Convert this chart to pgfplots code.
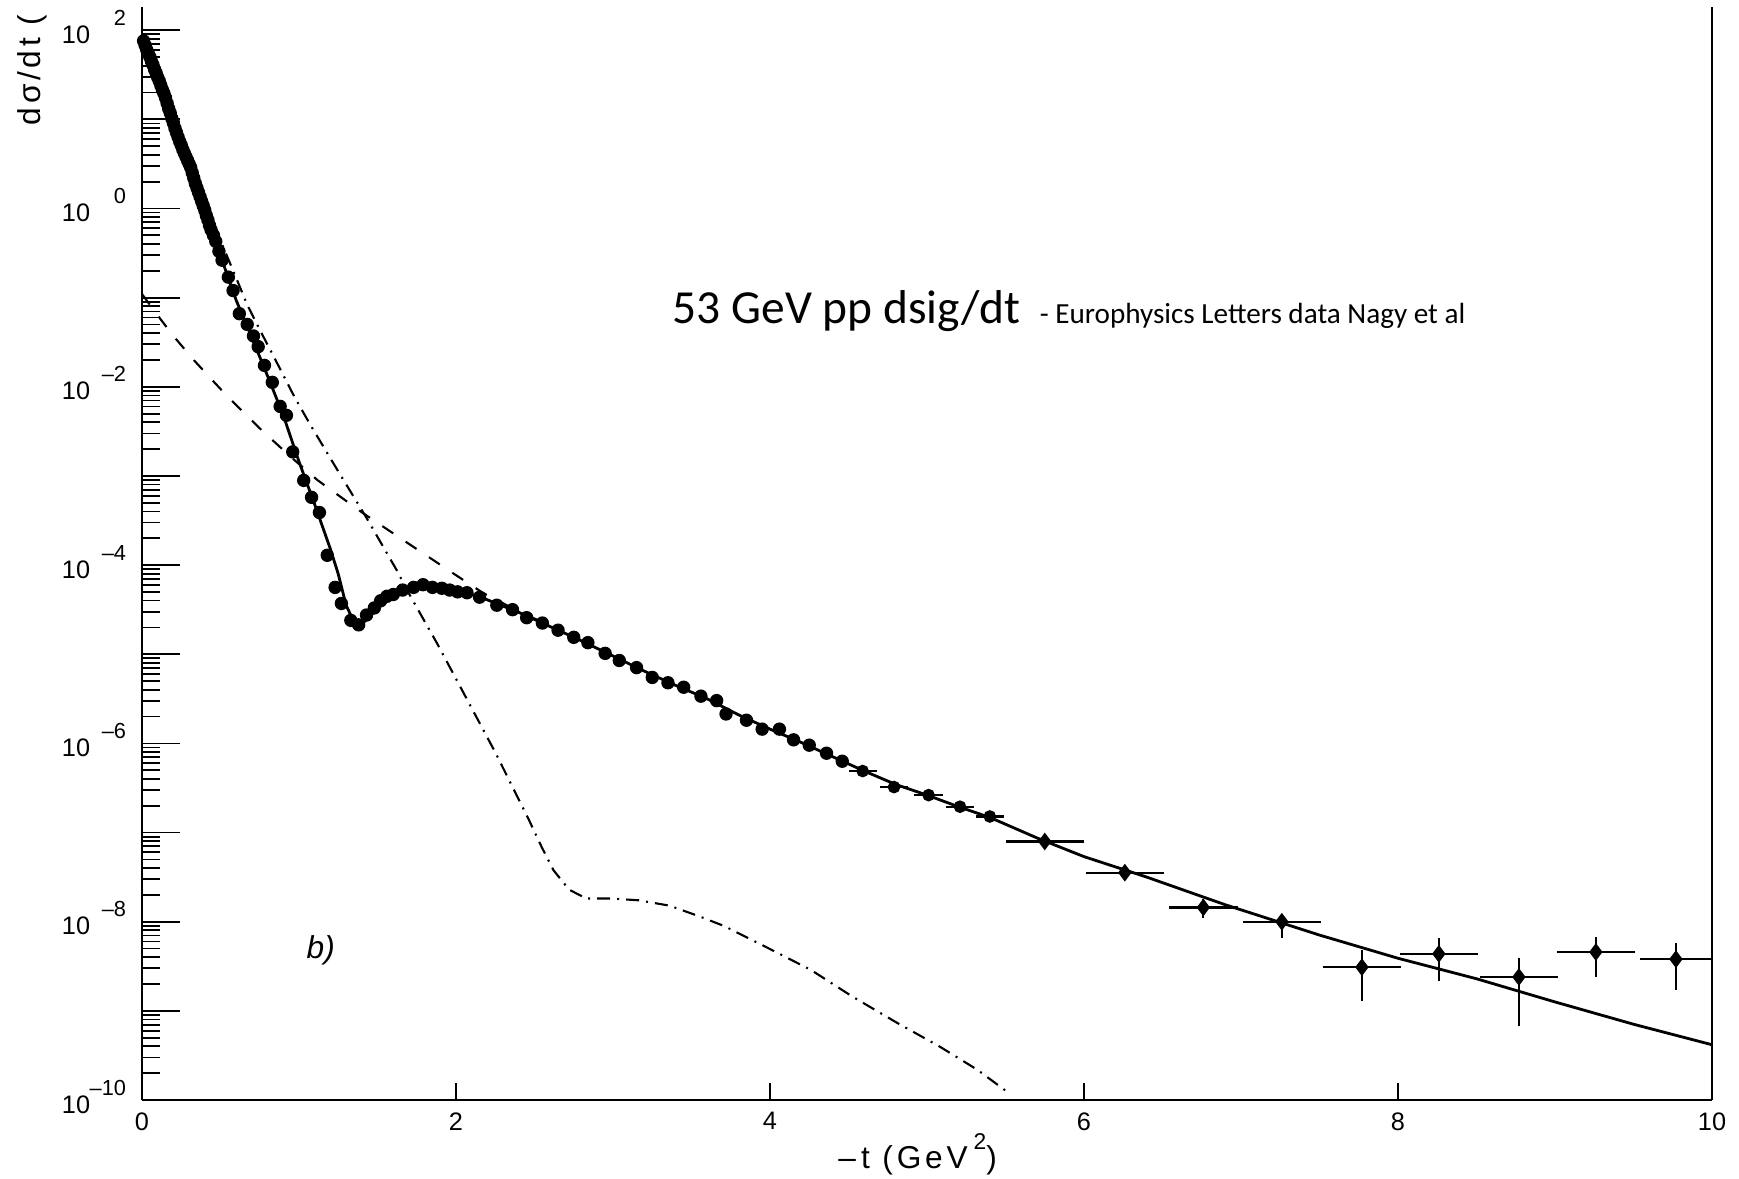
\documentclass[border=0pt]{standalone}
\usepackage{fontspec}
\setmainfont{Liberation Sans}
\newfontfamily\calibri{Carlito}
\usepackage{pgfplots}
\pgfplotsset{compat=1.18}
\usepackage{pgfplotstable}
\usetikzlibrary{calc}

\newcommand{\E}[1]{10\makebox[3.6mm][r]{\raisebox{1.8mm}{\fontsize{6.2}{7}\selectfont #1}}}
\newcommand{\labfont}{\fontsize{9}{10}\selectfont\addfontfeature{LetterSpace=12}}

\def\minorlist{100}
\foreach \e in {-10,...,2}{\foreach \m in {2,...,9}{\xdef\minorlist{\minorlist,\m e\e}}}

\pgfplotstableread{
x ly
0.01 1.88
0.02 1.83
0.03 1.78
0.04 1.74
0.05 1.70
0.06 1.65
0.07 1.61
0.08 1.56
0.09 1.52
0.10 1.47
0.11 1.43
0.12 1.38
0.13 1.33
0.14 1.29
0.15 1.24
0.16 1.18
0.17 1.12
0.18 1.07
0.19 1.01
0.20 0.96
0.21 0.90
0.22 0.85
0.23 0.80
0.24 0.75
0.25 0.71
0.26 0.66
0.27 0.62
0.28 0.58
0.29 0.54
0.30 0.50
0.31 0.46
0.32 0.40
0.33 0.34
0.34 0.28
0.35 0.23
0.36 0.18
0.37 0.13
0.38 0.08
0.39 0.03
0.40 -0.02
0.41 -0.08
0.42 -0.13
0.43 -0.19
0.44 -0.24
0.455 -0.30
0.47 -0.37
0.49 -0.48
0.51 -0.58
0.55 -0.77
0.58 -0.92
0.62 -1.18
0.67 -1.30
0.71 -1.43
0.74 -1.55
0.78 -1.76
0.83 -1.95
0.88 -2.22
0.92 -2.32
0.96 -2.73
1.03 -3.05
1.08 -3.24
1.13 -3.41
1.18 -3.89
1.23 -4.25
1.27 -4.43
1.33 -4.62
1.38 -4.67
1.43 -4.56
1.48 -4.48
1.52 -4.40
1.56 -4.35
1.60 -4.33
1.66 -4.28
1.73 -4.25
1.79 -4.22
1.85 -4.25
1.91 -4.26
1.96 -4.28
2.01 -4.30
2.07 -4.31
2.15 -4.36
2.26 -4.45
2.36 -4.50
2.45 -4.59
2.55 -4.65
2.65 -4.73
2.75 -4.81
2.84 -4.87
2.95 -4.99
3.04 -5.07
3.15 -5.15
3.25 -5.26
3.35 -5.32
3.45 -5.37
3.56 -5.47
3.66 -5.52
3.72 -5.67
3.85 -5.74
3.95 -5.84
4.06 -5.84
4.15 -5.96
4.25 -6.02
4.36 -6.11
4.46 -6.20
}\datadots

\pgfplotstableread{
x y ex ep em
4.59 4.898e-7 0.09 0 0
4.79 3.236e-7 0.09 0 0
5.01 2.630e-7 0.09 0 0
5.21 1.950e-7 0.09 0 0
5.40 1.514e-7 0.09 0 0
}\errsmall

\pgfplotstableread{
x y ex ep em
5.75 7.943e-8 0.25 0 0
6.26 3.548e-8 0.25 0 0
6.76 1.445e-8 0.22 0.333e-8 0.349e-8
7.26 1.000e-8 0.25 2.30e-9 3.39e-9
7.77 3.090e-9 0.25 1.696e-9 1.802e-9
8.26 4.365e-9 0.25 2.242e-9 2.177e-9
8.77 2.399e-9 0.25 1.491e-9 1.723e-9
9.26 4.571e-9 0.25 2.190e-9 2.172e-9
9.77 3.802e-9 0.23 1.952e-9 2.104e-9
}\errbig

\pgfplotstableread{
x ly
0 1.92
0.05 1.70
0.1 1.47
0.15 1.23
0.2 0.97
0.25 0.72
0.3 0.50
0.35 0.24
0.4 -0.02
0.45 -0.28
0.5 -0.53
0.55 -0.78
0.6 -1.03
0.7 -1.45
0.8 -1.88
0.9 -2.32
1.0 -2.84
1.1 -3.32
1.2 -3.82
1.25 -4.10
1.3 -4.45
1.34 -4.60
1.38 -4.67
1.42 -4.63
1.46 -4.56
1.5 -4.49
1.55 -4.41
1.6 -4.36
1.7 -4.29
1.8 -4.25
1.9 -4.26
2.0 -4.29
2.1 -4.33
2.2 -4.39
2.4 -4.53
2.6 -4.69
2.8 -4.85
3.0 -5.02
3.2 -5.19
3.4 -5.35
3.6 -5.50
3.8 -5.68
4.0 -5.84
4.2 -5.99
4.4 -6.15
4.6 -6.31
4.8 -6.46
5.0 -6.58
5.2 -6.71
5.4 -6.83
5.7 -7.06
6.0 -7.27
6.4 -7.50
6.9 -7.81
7.5 -8.15
8.0 -8.41
8.5 -8.64
9.0 -8.90
9.5 -9.15
10.0 -9.38
}\solidline

\pgfplotstableread{
x ly
0 -0.96
0.1 -1.20
0.2 -1.43
0.33 -1.70
0.45 -1.93
0.54 -2.10
0.77 -2.50
0.95 -2.79
1.12 -3.05
1.41 -3.42
1.69 -3.75
1.98 -4.09
2.17 -4.31
2.4 -4.52
2.6 -4.68
}\dashedline

\pgfplotstableread{
x ly
0 1.92
0.1 1.47
0.2 0.98
0.3 0.52
0.4 0.07
0.5 -0.36
0.6 -0.78
0.67 -1.08
0.75 -1.36
0.83 -1.63
0.90 -1.87
0.97 -2.11
1.07 -2.42
1.24 -2.92
1.43 -3.47
1.62 -4.05
1.71 -4.35
1.88 -4.88
2.05 -5.44
2.25 -6.10
2.465 -6.86
2.545 -7.16
2.62 -7.42
2.72 -7.64
2.83 -7.74
2.99 -7.74
3.165 -7.76
3.36 -7.82
3.55 -7.94
3.71 -8.05
3.97 -8.28
4.26 -8.54
4.525 -8.84
4.815 -9.14
5.08 -9.40
5.32 -9.66
5.52 -9.92
}\dashdotline

\begin{document}
\begin{tikzpicture}
\begin{axis}[
  scale only axis, width=157mm, height=109.3mm,
  xmin=0, xmax=10, ymin=1e-10, ymax=182, ymode=log,
  axis x line*=bottom, axis y line*=left,
  axis line style={-, line width=0.8pt},
  tick align=inside,
  xtick={0,2,4,6,8,10},
  ytick={1e-10,1e-9,1e-8,1e-7,1e-6,1e-5,1e-4,1e-3,1e-2,1e-1,1,10,100},
  yticklabels={\E{\textendash10},{},\E{\textendash8},{},\E{\textendash6},{},\E{\textendash4},{},\E{\textendash2},{},\E{0},{},\E{2}},
  minor ytick/.expanded=\minorlist,
  major tick length=3.8mm, minor tick length=1.8mm,
  xtick style={/pgfplots/major tick length=1.7mm},
  tick style={black, line width=0.5pt},
  /pgf/number format/assume math mode=true,
  ticklabel style={font=\fontsize{7.2}{8}\selectfont},
  yticklabel style={anchor=base east, yshift=-1.3mm, xshift=-0.35mm},
  clip=false,
]
\addplot[black, line width=0.8pt] table[x=x, y expr=10^(\thisrow{ly})] {\solidline};
\addplot[black, line width=0.6pt, dash pattern=on 1.3mm off 1.5mm] table[x=x, y expr=10^(\thisrow{ly})] {\dashedline};
\addplot[black, line width=0.6pt, dash pattern=on 1.3mm off 0.7mm on 0.2mm off 0.7mm] table[x=x, y expr=10^(\thisrow{ly})] {\dashdotline};
\addplot[only marks, mark=*, mark size=1.7pt, black] table[x=x, y expr=10^(\thisrow{ly})] {\datadots};
\addplot[only marks, mark=*, mark size=1.6pt, black,
  error bars/.cd, x dir=both, x explicit, y dir=both, y explicit, error mark=none,
  error bar style={line width=0.6pt}]
  table[x=x, y=y, x error=ex, y error plus=ep, y error minus=em] {\errsmall};
\addplot[only marks, mark=diamond*, mark size=2.2pt, black,
  error bars/.cd, x dir=both, x explicit, y dir=both, y explicit, error mark=none,
  error bar style={line width=0.6pt}]
  table[x=x, y=y, x error=ex, y error plus=ep, y error minus=em] {\errbig};

\draw[line width=0.8pt] (rel axis cs:1,0) -- (rel axis cs:1,1);

\node[anchor=base, inner sep=0pt, font=\labfont] at ($(rel axis cs:0.494,0)+(0mm,-6.8mm)$)
  {\textendash\,t (GeV\hspace{0.6mm}\raisebox{1.1ex}{\fontsize{6.5}{7}\selectfont 2})};
\node[rotate=90, anchor=center, inner sep=0pt, font=\labfont] at ($(rel axis cs:0,1)+(-11.0mm,-6.3mm)$) {dσ/dt (};
\node[anchor=base west, inner sep=0pt] at ($(rel axis cs:0,1)+(53.0mm,-31.7mm)$)
  {\calibri\fontsize{13.5}{16}\selectfont 53 GeV pp dsig/dt\hspace{1.9mm}\fontsize{8.3}{10}\selectfont - Europhysics Letters data Nagy et al};
\node[anchor=base west, inner sep=0pt, font=\fontsize{9}{10}\selectfont\itshape] at ($(rel axis cs:0,1)+(16.4mm,-95.1mm)$) {b)};
\end{axis}
\pgfresetboundingbox
\path ($(current axis.south west)+(-14.2mm,-7.8mm)$) rectangle ($(current axis.north east)+(2.7mm,0.7mm)$);
\end{tikzpicture}
\end{document}
